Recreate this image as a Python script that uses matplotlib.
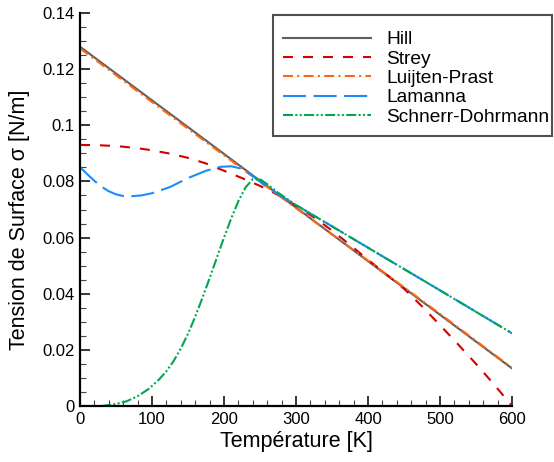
import matplotlib
matplotlib.use("Agg")
import matplotlib.pyplot as plt
from matplotlib.patches import Rectangle
from matplotlib.ticker import MultipleLocator, FuncFormatter

plt.rcParams['font.family'] = ['Liberation Sans', 'DejaVu Sans']
plt.rcParams['lines.scale_dashes'] = False

# ---- data ----
T_hill = [0, 100, 200, 300, 400, 500, 600]
hill = [0.1280, 0.1089, 0.0898, 0.0707, 0.0516, 0.0325, 0.0134]

T_strey = [0, 25, 50, 75, 100, 125, 150, 175, 200, 225, 250, 275, 300, 325,
           350, 375, 400, 425, 450, 475, 500, 525, 550, 575, 600]
strey = [0.0930, 0.0929, 0.0926, 0.0920, 0.0911, 0.0899, 0.0884, 0.0864,
         0.0838, 0.0812, 0.0784, 0.0752, 0.0714, 0.0672, 0.0625, 0.0574,
         0.0521, 0.0470, 0.0418, 0.0355, 0.0288, 0.0220, 0.0150, 0.0077, 0.0000]

T_lp = [0, 100, 200, 300, 400, 500, 600]
luijten = [0.1274, 0.1083, 0.0893, 0.0705, 0.0518, 0.0328, 0.0136]

T_lam = [0, 10, 20, 30, 40, 50, 60, 70, 85, 100, 125, 150, 175, 195, 210,
         225, 240, 255, 270, 300, 400, 500, 600]
lamanna = [0.0851, 0.0826, 0.0802, 0.0781, 0.0765, 0.0754, 0.0748, 0.0747,
           0.0750, 0.0758, 0.0780, 0.0812, 0.0838, 0.0852, 0.0854, 0.0845,
           0.0819, 0.0789, 0.0762, 0.0716, 0.0564, 0.0412, 0.0259]

T_sd = [0, 30, 50, 65, 80, 95, 110, 120, 130, 140, 150, 160, 170, 180, 190,
        200, 210, 220, 230, 240, 250, 260, 275, 300, 400, 500, 600]
schnerr = [0.0, 0.0, 0.0007, 0.0017, 0.0035, 0.0060, 0.0095, 0.0124, 0.0160,
           0.0205, 0.0257, 0.0318, 0.0385, 0.0455, 0.0528, 0.0600, 0.0668,
           0.0730, 0.0779, 0.0808, 0.0808, 0.0790, 0.0760, 0.0716, 0.0564,
           0.0412, 0.0259]

labels = ["Hill", "Strey", "Luijten-Prast", "Lamanna", "Schnerr-Dohrmann"]

# ---- figure ----
W, H = 554, 462
fig = plt.figure(figsize=(W / 100, H / 100), dpi=100)
ax = fig.add_axes([80 / W, (H - 406) / H, 432 / W, 393 / H])

lw = 1.5
l1, = ax.plot(T_hill, hill, color='#5f5f5f', lw=lw, label=labels[0])
l2, = ax.plot(T_strey, strey, color='#d40000', lw=lw, dashes=(7.2, 7.2), label=labels[1])
l3, = ax.plot(T_lp, luijten, color='#ff6410', lw=lw, dashes=(7.2, 3.1, 1.44, 3.1), label=labels[2])
l4, = ax.plot(T_lam, lamanna, color='#1a8cff', lw=lw, dashes=(16.6, 5.4), label=labels[3])
l5, = ax.plot(T_sd, schnerr, color='#00a650', lw=lw,
              dashes=(7.2, 1.7, 1.44, 1.7, 1.44, 1.7), label=labels[4])

ax.set_xlim(0, 600)
ax.set_ylim(0, 0.14)
ax.xaxis.set_major_locator(MultipleLocator(100))
ax.xaxis.set_minor_locator(MultipleLocator(20))
ax.yaxis.set_major_locator(MultipleLocator(0.02))
ax.yaxis.set_minor_locator(MultipleLocator(0.005))

def yfmt(v, pos):
    s = ("%.2f" % v).rstrip('0').rstrip('.')
    return s if s else "0"
ax.yaxis.set_major_formatter(FuncFormatter(yfmt))

for s in ['top', 'right']:
    ax.spines[s].set_visible(False)
for s in ['left', 'bottom']:
    ax.spines[s].set_linewidth(1.6)
    ax.spines[s].set_color('black')

ax.tick_params(which='major', direction='in', length=7, width=1.1, labelsize=12, pad=4,
               colors='black')
ax.tick_params(which='minor', direction='in', length=4, width=0.8, color='#444444')

ax.set_xlabel("Température [K]", fontsize=15.5)
ax.set_ylabel("Tension de Surface σ [N/m]", fontsize=15.5)
ax.xaxis.label.set_va('center')
ax.yaxis.label.set_va('center')
ax.xaxis.set_label_coords(0.502, (406 - 441) / 393)
ax.yaxis.set_label_coords((19 - 80) / 432, (406 - 220) / 393)

# legend frame drawn explicitly
fig.patches.append(Rectangle((273 / W, (H - 136) / H), 279 / W, 121 / H,
                             transform=fig.transFigure, fill=True, facecolor='white',
                             edgecolor='#505050', linewidth=1.5, zorder=5))
leg = fig.legend(handles=[l1, l2, l3, l4, l5], labels=labels, loc='center left',
                 bbox_to_anchor=(283 / W, (H - 78.3) / H), frameon=False,
                 fontsize=13.8, handlelength=4.58, handletextpad=0.82,
                 labelspacing=0.1, borderpad=0, borderaxespad=0)
leg.set_zorder(6)

fig.savefig("out.png", dpi=100)
